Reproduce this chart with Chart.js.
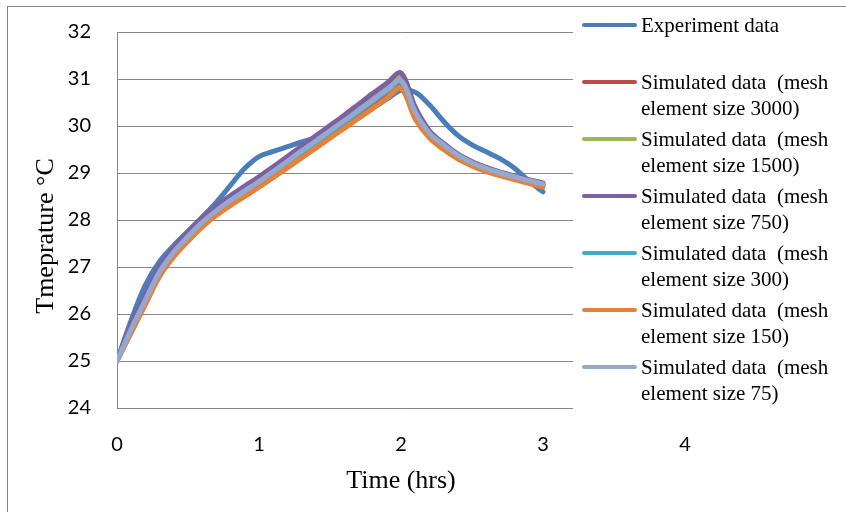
<!DOCTYPE html>
<html>
<head>
<meta charset="utf-8">
<script src="https://cdn.jsdelivr.net/npm/chart.js@4.4.1/dist/chart.umd.min.js"></script>
<style>
  html, body { margin: 0; padding: 0; background: #ffffff; }
  #wrap { width: 846px; height: 512px; position: relative; }
  canvas { display: block; }
</style>
</head>
<body>
<div id="wrap"><canvas id="c" width="846" height="512"></canvas></div>
<script>
// ---- data ----
const timeHrs = [0, 0.1, 0.2, 0.3, 0.4, 0.5, 0.6, 0.7, 0.8, 0.9, 1.0, 1.1, 1.2, 1.3, 1.4, 1.5, 1.6, 1.7, 1.8, 1.9, 2.0, 2.1, 2.2, 2.3, 2.4, 2.5, 2.6, 2.7, 2.8, 2.9, 3.0];

const experiment = [25.0, 25.87, 26.62, 27.12, 27.46, 27.76, 28.06, 28.38, 28.74, 29.1, 29.35, 29.46, 29.56, 29.66, 29.74, 29.8, 29.98, 30.18, 30.38, 30.57, 30.76, 30.72, 30.45, 30.1, 29.8, 29.6, 29.45, 29.3, 29.1, 28.83, 28.6];
const sim3000 = [25.0, 25.63, 26.24, 26.84, 27.26, 27.59, 27.89, 28.14, 28.36, 28.56, 28.76, 28.97, 29.19, 29.41, 29.62, 29.84, 30.05, 30.27, 30.49, 30.71, 30.91, 30.24, 29.8, 29.55, 29.34, 29.18, 29.06, 28.97, 28.89, 28.81, 28.74];
const sim1500 = [25.0, 25.72, 26.34, 26.94, 27.36, 27.69, 27.99, 28.24, 28.46, 28.66, 28.86, 29.07, 29.29, 29.51, 29.72, 29.94, 30.16, 30.38, 30.6, 30.82, 31.03, 30.34, 29.88, 29.62, 29.4, 29.24, 29.11, 29.01, 28.93, 28.85, 28.78];
const sim750 = [25.0, 25.78, 26.4, 27.0, 27.42, 27.75, 28.05, 28.3, 28.52, 28.72, 28.92, 29.13, 29.35, 29.57, 29.79, 30.01, 30.23, 30.46, 30.69, 30.91, 31.13, 30.4, 29.9, 29.63, 29.4, 29.24, 29.12, 29.02, 28.94, 28.86, 28.79];
const sim300 = [25.0, 25.65, 26.27, 26.87, 27.29, 27.62, 27.92, 28.17, 28.39, 28.59, 28.79, 29.0, 29.22, 29.44, 29.65, 29.87, 30.08, 30.3, 30.52, 30.74, 30.94, 30.26, 29.82, 29.57, 29.36, 29.2, 29.08, 28.98, 28.9, 28.82, 28.75];
const sim150 = [25.0, 25.6, 26.2, 26.8, 27.22, 27.55, 27.85, 28.1, 28.31, 28.5, 28.7, 28.9, 29.11, 29.32, 29.53, 29.74, 29.95, 30.16, 30.37, 30.59, 30.8, 30.15, 29.75, 29.5, 29.3, 29.15, 29.03, 28.94, 28.86, 28.78, 28.7];
const sim75 = [25.0, 25.68, 26.3, 26.9, 27.32, 27.65, 27.95, 28.2, 28.42, 28.62, 28.82, 29.03, 29.25, 29.47, 29.68, 29.9, 30.11, 30.33, 30.55, 30.77, 30.97, 30.3, 29.85, 29.6, 29.38, 29.22, 29.1, 29.0, 28.92, 28.84, 28.77];

const seriesNames = [
  ['Experiment data'],
  ['Simulated data  (mesh', 'element size 3000)'],
  ['Simulated data  (mesh', 'element size 1500)'],
  ['Simulated data  (mesh', 'element size 750)'],
  ['Simulated data  (mesh', 'element size 300)'],
  ['Simulated data  (mesh', 'element size 150)'],
  ['Simulated data  (mesh', 'element size 75)']
];
const seriesValues = [experiment, sim3000, sim1500, sim750, sim300, sim150, sim75];
const seriesColors = ['#4A7EBB', '#BE4B48', '#98B954', '#7D60A0', '#46AAC5', '#E5823A', '#93A9CF'];

const xTitle = 'Time (hrs)';
const yTitle = 'Tmeprature °C';

const datasets = seriesValues.map((vals, i) => ({
  label: seriesNames[i].join(' '),
  data: vals.map((v, k) => ({ x: timeHrs[k], y: v })),
  borderColor: seriesColors[i],
  backgroundColor: seriesColors[i],
  borderWidth: 5,
  borderCapStyle: 'round',
  borderJoinStyle: 'round',
  pointRadius: 0,
  tension: 0.35,
  fill: false,
  order: seriesValues.length - 1 - i
}));

const framePlugin = {
  id: 'frame',
  beforeDraw(chart) {
    const ctx = chart.ctx;
    ctx.save();
    ctx.fillStyle = '#ffffff';
    ctx.fillRect(0, 0, chart.width, chart.height);
    ctx.restore();
  },
  afterDraw(chart) {
    const ctx = chart.ctx;
    ctx.save();
    // white legend box covering the right part of the plot
    ctx.fillStyle = '#ffffff';
    ctx.fillRect(573, 7, chart.width - 573, 403);
    // outer chart border
    ctx.strokeStyle = '#868686';
    ctx.lineWidth = 1;
    ctx.strokeRect(7.5, 6.5, 1000, 1000);
    // y axis title
    ctx.fillStyle = '#000000';
    ctx.font = '26px "Liberation Serif"';
    ctx.textAlign = 'center';
    ctx.textBaseline = 'middle';
    ctx.translate(46, 236);
    ctx.rotate(-Math.PI / 2);
    ctx.fillText(yTitle, 0, 0);
    ctx.setTransform(1, 0, 0, 1, 0, 0);
    // legend
    chart.data.datasets.forEach((ds, i) => {
      const cy = 25 + 57 * i;
      ctx.strokeStyle = ds.borderColor;
      ctx.lineWidth = 4;
      ctx.lineCap = 'round';
      ctx.beginPath();
      ctx.moveTo(584, cy);
      ctx.lineTo(635, cy);
      ctx.stroke();
      ctx.fillStyle = '#000000';
      ctx.font = '21px "Liberation Serif"';
      ctx.textBaseline = 'alphabetic';
      ctx.textAlign = 'left';
      seriesNames[i].forEach((line, j) => {
        ctx.fillText(line, 641, cy + 7 + 26 * j);
      });
    });
    ctx.restore();
  }
};

new Chart(document.getElementById('c'), {
  type: 'line',
  data: { datasets },
  plugins: [framePlugin],
  options: {
    responsive: false,
    animation: false,
    devicePixelRatio: 1,
    layout: { padding: { top: 32, right: 161, bottom: 0, left: 0 } },
    plugins: { legend: { display: false }, tooltip: { enabled: false } },
    scales: {
      x: {
        type: 'linear',
        min: 0, max: 4,
        ticks: { stepSize: 1, color: '#000', font: { family: 'Lato', size: 20 }, padding: 25, maxRotation: 0 },
        grid: { display: false, drawTicks: false },
        border: { display: true, color: '#868686', width: 1 },
        title: { display: true, text: xTitle, color: '#000', font: { family: 'Liberation Serif', size: 26 }, padding: { top: 0, bottom: 15 } },
        afterFit(scale) { scale.height = 104; }
      },
      y: {
        type: 'linear',
        min: 24, max: 32,
        ticks: { stepSize: 1, color: '#000', font: { family: 'Lato', size: 20 }, padding: 26 },
        grid: { color: '#868686', lineWidth: 1, drawTicks: false },
        border: { display: true, color: '#868686', width: 1 },
        title: { display: false },
        afterFit(scale) { scale.width = 117; scale.paddingTop = 12; scale.paddingBottom = 12; }
      }
    }
  }
});
</script>
</body>
</html>
